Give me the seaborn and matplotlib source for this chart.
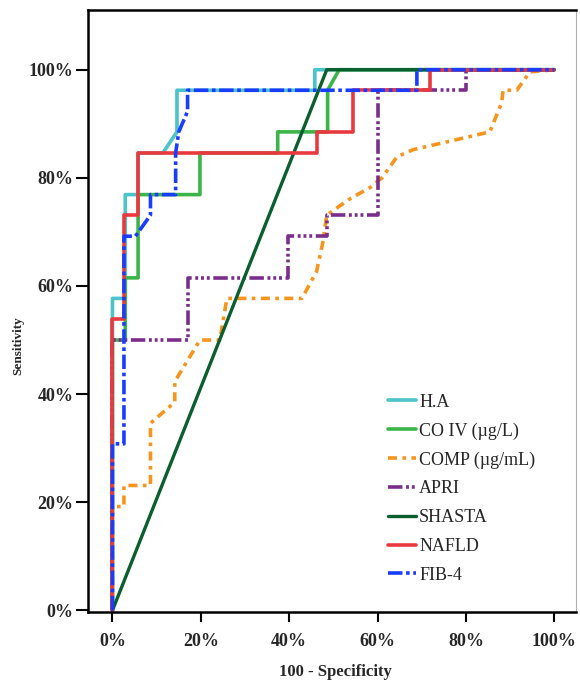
import numpy as np
import seaborn as sns
import matplotlib.pyplot as plt
import pandas as pd
from matplotlib.ticker import PercentFormatter

sns.set_style("ticks")
plt.rcParams['font.family'] = ['Liberation Serif', 'DejaVu Serif']

# ROC curves (x = 100 - specificity, y = sensitivity, in %)
ha_x = [0, 0, 2.9, 2.9, 5.8, 5.8, 11.4, 14.6, 14.6, 45.8, 45.8, 100]
ha_y = [0, 57.7, 57.7, 76.9, 76.9, 84.6, 84.6, 88.5, 96.2, 96.2, 100, 100]

coiv_x = [0, 0, 2.9, 2.9, 5.8, 5.8, 19.8, 19.8, 37.4, 37.4, 48.7, 48.7, 51.3, 100]
coiv_y = [0, 50, 50, 61.5, 61.5, 76.9, 76.9, 84.6, 84.6, 88.5, 88.5, 96.2, 100, 100]

comp_x = [0, 0, 2.6, 2.6, 8.6, 8.6, 14.1, 14.1, 19.8, 24.3, 25.9, 42.9, 46.2, 47.6,
          48.5, 53.5, 58.3, 61, 64.4, 68, 85.4, 88.1, 88.4, 91.5, 94.5, 100]
comp_y = [0, 19.2, 19.2, 23.1, 23.1, 34.6, 38.5, 42.3, 50, 50, 57.7, 57.7, 62.7, 68,
          73.1, 76, 78.2, 80, 83.9, 85.2, 88.5, 93.9, 96.2, 96.2, 99.6, 100]

apri_x = [0, 0, 17.1, 17.1, 39.7, 39.7, 48.5, 48.5, 60, 60, 80, 80, 100]
apri_y = [0, 50, 50, 61.5, 61.5, 69.2, 69.2, 73.1, 73.1, 96.2, 96.2, 100, 100]

shasta_x = [0, 48.5, 100]
shasta_y = [0, 100, 100]

nafld_x = [0, 0, 2.5, 2.5, 5.8, 5.8, 46.2, 46.2, 54.4, 54.4, 71.8, 71.8, 100]
nafld_y = [0, 53.8, 53.8, 73.1, 73.1, 84.6, 84.6, 88.5, 88.5, 96.2, 96.2, 100, 100]

fib4_x = [0, 0, 2.6, 2.6, 5.2, 8.6, 8.6, 14.3, 14.3, 15, 17, 17, 68.9, 68.9, 100]
fib4_y = [0, 30.8, 30.8, 69.2, 69.2, 73.1, 76.9, 76.9, 84.6, 88.5, 92.3, 96.2, 96.2, 100, 100]

names = ["H.A", "CO IV (µg/L)", "COMP (µg/mL)", "APRI", "SHASTA", "NAFLD", "FIB-4"]
xs = [ha_x, coiv_x, comp_x, apri_x, shasta_x, nafld_x, fib4_x]
ys = [ha_y, coiv_y, comp_y, apri_y, shasta_y, nafld_y, fib4_y]

colors = ["#4cc2ca", "#3bb54a", "#f7941d", "#7b2d8b", "#0b5e2e", "#e8393f", "#1a3cff"]
styles = ["-", "-", (0, (2.5, 1.5, 1, 1.5)), (0, (4, 1, 0.8, 0.8, 0.8, 0.8, 0.8, 1)),
          "-", "-", (0, (4, 1, 1, 1))]
widths = [2.6, 2.6, 2.6, 2.6, 2.4, 2.6, 2.6]

fig, ax = plt.subplots(figsize=(5.8, 6.83), dpi=100)
fig.subplots_adjust(left=0.152, right=0.993, top=0.985, bottom=0.104)

for name, x, y, c, ls, lw in zip(names, xs, ys, colors, styles, widths):
    df = pd.DataFrame({"x": x, "y": y})
    sns.lineplot(data=df, x="x", y="y", sort=False, estimator=None, ax=ax,
                 color=c, linestyle=ls, linewidth=lw, label=name)

ax.set_xlim(-5.5, 104.9)
ax.set_ylim(-0.3, 111)
ax.set_xticks([0, 20, 40, 60, 80, 100])
ax.set_yticks([0, 20, 40, 60, 80, 100])
ax.xaxis.set_major_formatter(PercentFormatter(decimals=0))
ax.yaxis.set_major_formatter(PercentFormatter(decimals=0))
ax.tick_params(axis="both", width=1.5, color="black", labelsize=13)
ax.tick_params(axis="x", length=7.5, pad=8)
ax.tick_params(axis="y", length=8.5, pad=2)
for lab in ax.get_xticklabels() + ax.get_yticklabels():
    lab.set_fontweight("bold")

for side in ["left", "bottom", "top"]:
    ax.spines[side].set_color("black")
    ax.spines[side].set_linewidth(1.8)
ax.spines["right"].set_color("#b0b0b0")
ax.spines["right"].set_linewidth(0.8)

ax.set_xlabel("100 - Specificity", fontsize=12, fontweight="bold")
ax.set_ylabel("Sensitivity", fontsize=9.5, fontweight="bold")
ax.xaxis.set_label_coords(0.506, -0.086)
ax.yaxis.set_label_coords(-0.13, 0.443)

ax.legend(loc="lower right", bbox_to_anchor=(0.95, 0.02), frameon=False, fontsize=13,
          handlelength=1.6, handletextpad=0.15, labelspacing=0.65)

fig.savefig("out.png", dpi=100)
